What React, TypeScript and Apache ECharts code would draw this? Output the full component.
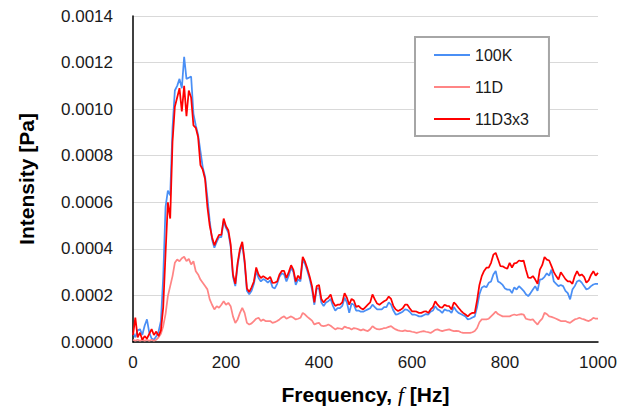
import React, { useEffect, useRef } from "react";
import * as echarts from "echarts";

// Frequency [Hz]
const FREQ = [
  0, 5, 10, 15, 20, 25, 30, 35, 40, 45,
  50, 55, 60, 65, 70, 75, 80, 85, 90, 95,
  100, 105, 110, 115, 120, 125, 130, 135, 140, 145,
  150, 155, 160, 165, 170, 175, 180, 185, 190, 195,
  200, 205, 210, 215, 220, 225, 230, 235, 240, 245,
  250, 255, 260, 265, 270, 275, 280, 285, 290, 295,
  300, 305, 310, 315, 320, 325, 330, 335, 340, 345,
  350, 355, 360, 365, 370, 375, 380, 385, 390, 395,
  400, 405, 410, 415, 420, 425, 430, 435, 440, 445,
  450, 455, 460, 465, 470, 475, 480, 485, 490, 495,
  500, 505, 510, 515, 520, 525, 530, 535, 540, 545,
  550, 555, 560, 565, 570, 575, 580, 585, 590, 595,
  600, 605, 610, 615, 620, 625, 630, 635, 640, 645,
  650, 655, 660, 665, 670, 675, 680, 685, 690, 695,
  700, 705, 710, 715, 720, 725, 730, 735, 740, 745,
  750, 755, 760, 765, 770, 775, 780, 785, 790, 795,
  800, 805, 810, 815, 820, 825, 830, 835, 840, 845,
  850, 855, 860, 865, 870, 875, 880, 885, 890, 895,
  900, 905, 910, 915, 920, 925, 930, 935, 940, 945,
  950, 955, 960, 965, 970, 975, 980, 985, 990, 995,
  1000,
];

// Intensity [Pa], series "100K"
const S_100K = [
  0.00004, 0.00002, 0.00005, 0.000055, 0.00003, 0.00007, 0.000097, 0.00004, 0.000015, 0.00001,
  0.000025, 0.000045, 0.00009, 0.00028, 0.00058, 0.00065, 0.00063, 0.00092, 0.00108, 0.0011,
  0.00113, 0.00109, 0.001225, 0.00113, 0.001135, 0.00114, 0.00098, 0.00093, 0.00089, 0.00082,
  0.00075, 0.00071, 0.00062, 0.00052, 0.00044, 0.000405, 0.00043, 0.00045, 0.00045, 0.00052,
  0.00049, 0.00047, 0.00041, 0.00028, 0.00024, 0.00033, 0.00039, 0.00042, 0.00034, 0.00022,
  0.000205, 0.00022, 0.00025, 0.000305, 0.000275, 0.00026, 0.00027, 0.000265, 0.000255, 0.000265,
  0.000235, 0.00023, 0.00025, 0.00028, 0.000295, 0.00029, 0.00026, 0.000285, 0.00032, 0.0003,
  0.000245, 0.00027, 0.00026, 0.000355, 0.000335, 0.000305, 0.00027, 0.000225, 0.00016, 0.00023,
  0.00023, 0.00017, 0.000155, 0.00017, 0.000175, 0.000185, 0.000155, 0.000135, 0.000145, 0.000145,
  0.000155, 0.00019, 0.00017, 0.000125, 0.000165, 0.00016, 0.000135, 0.000135, 0.00013, 0.00013,
  0.000135, 0.00014, 0.000145, 0.00016, 0.00015, 0.00014, 0.00014, 0.00014, 0.00015, 0.00015,
  0.00017, 0.00016, 0.000135, 0.000118, 0.00012, 0.000125, 0.00013, 0.00014, 0.000138, 0.00013,
  0.000118, 0.000118, 0.000115, 0.00011, 0.00011, 0.000115, 0.00012, 0.000118, 0.00013, 0.000135,
  0.000154, 0.00014, 0.000135, 0.000125, 0.00014, 0.000135, 0.000135, 0.000125, 0.00015, 0.000135,
  0.000125, 0.00012, 0.000115, 0.00011, 0.000097, 0.0001, 0.000105, 0.00011, 0.00015, 0.000205,
  0.000233, 0.00024, 0.000235, 0.000254, 0.00026, 0.00029, 0.000305, 0.00026, 0.000254, 0.000245,
  0.00023, 0.000225, 0.000225, 0.00021, 0.000235, 0.000225, 0.00024, 0.00023, 0.00022, 0.000205,
  0.000197, 0.00021, 0.000225, 0.00024, 0.00022, 0.000268, 0.00027, 0.00028, 0.000295, 0.000285,
  0.000311, 0.00026, 0.00025, 0.00024, 0.000245, 0.00024, 0.00022, 0.00021, 0.000183, 0.000225,
  0.00024, 0.00026, 0.000265, 0.000255, 0.00024, 0.000226, 0.00023, 0.00024, 0.000247, 0.00025,
  0.00025,
];

// Intensity [Pa], series "11D"
const S_11D = [
  0.00001, 0.000005, 0.00001, 0.000005, 0.00001, 0.000005, 0.00001, 0.000005, 0.00001, 0.000005,
  0.00001, 0.00002, 0.000035, 0.000068, 0.00012, 0.000197, 0.00024, 0.000283, 0.00034, 0.000354,
  0.000347, 0.00036, 0.000366, 0.000347, 0.000357, 0.000333, 0.000347, 0.000304, 0.00029, 0.000268,
  0.000254, 0.00024, 0.000226, 0.000183, 0.00016, 0.00014, 0.000154, 0.000147, 0.00016, 0.000175,
  0.00016, 0.000168, 0.000154, 0.00011, 0.000082, 0.000097, 0.000125, 0.000147, 0.000125, 0.000082,
  0.000075, 0.00008, 0.00009, 0.0001, 0.000104, 0.00009, 0.000097, 0.00009, 0.00009, 0.00009,
  0.000082, 0.000085, 0.00009, 0.000097, 0.000105, 0.00011, 0.0001, 0.000105, 0.00011, 0.000104,
  0.000097, 0.0001, 0.000104, 0.000125, 0.000118, 0.000108, 0.0001, 0.000092, 0.000075, 0.00008,
  0.000082, 0.00007, 0.000068, 0.00007, 0.000075, 0.00007, 0.000062, 0.000054, 0.00006, 0.000058,
  0.000055, 0.000066, 0.000062, 0.00006, 0.000054, 0.00006, 0.000058, 0.000054, 0.00005, 0.000054,
  0.00005, 0.000047, 0.000055, 0.000068, 0.00006, 0.000055, 0.000054, 0.000056, 0.00006, 0.000061,
  0.000065, 0.000068, 0.00006, 0.000054, 0.00005, 0.000048, 0.000047, 0.00005, 0.000047, 0.000047,
  0.000044, 0.000042, 0.000039, 0.000042, 0.000045, 0.000047, 0.000044, 0.000042, 0.000039, 0.000045,
  0.000052, 0.000054, 0.00005, 0.000047, 0.00005, 0.000052, 0.000054, 0.00005, 0.000047, 0.000048,
  0.000047, 0.000042, 0.000039, 0.000039, 0.000039, 0.000039, 0.000042, 0.000047, 0.00006, 0.000085,
  0.000097, 0.000097, 0.000097, 0.0001, 0.00011, 0.00012, 0.00013, 0.00012, 0.000115, 0.00011,
  0.00011, 0.00011, 0.00011, 0.000115, 0.000118, 0.000115, 0.000118, 0.00012, 0.000118, 0.0001,
  0.000097, 0.000095, 0.000097, 0.000085, 0.000075, 0.00009, 0.0001, 0.000125, 0.00012, 0.00011,
  0.000108, 0.000104, 0.0001, 0.000095, 0.00009, 0.00009, 0.00009, 0.000085, 0.000082, 0.00009,
  0.000097, 0.0001, 0.000104, 0.0001, 0.000097, 0.000093, 0.00009, 0.000095, 0.000104, 0.0001,
  0.0001,
];

// Intensity [Pa], series "11D3x3"
const S_11D3X3 = [
  0.00003, 0.000105, 0.00002, 0.00004, 0.00001, 0.000025, 0.000015, 0.000035, 0.000055, 0.00003,
  0.000045, 0.000025, 0.00005, 0.00015, 0.00038, 0.0006, 0.00053, 0.00086, 0.00101, 0.00105,
  0.00109, 0.00099, 0.0011, 0.00097, 0.00108, 0.00105, 0.00093, 0.00092, 0.00088, 0.00076,
  0.00074, 0.0007, 0.00058, 0.0005, 0.00045, 0.000415, 0.00044, 0.00046, 0.00046, 0.00053,
  0.000497, 0.00048, 0.00042, 0.00029, 0.00025, 0.00034, 0.0004, 0.00043, 0.00035, 0.00023,
  0.000215, 0.000235, 0.00026, 0.00032, 0.00029, 0.000275, 0.000283, 0.000276, 0.00027, 0.00028,
  0.000254, 0.000255, 0.00026, 0.00029, 0.000305, 0.000305, 0.000275, 0.0003, 0.00033, 0.00031,
  0.00026, 0.000285, 0.00027, 0.000366, 0.000345, 0.000315, 0.00028, 0.00024, 0.00017, 0.00024,
  0.000245, 0.000185, 0.00017, 0.000183, 0.00019, 0.000204, 0.000172, 0.000155, 0.00016, 0.00016,
  0.00017, 0.00021, 0.00019, 0.00016, 0.000185, 0.000178, 0.00015, 0.000155, 0.000145, 0.00014,
  0.00015, 0.00016, 0.00017, 0.000204, 0.000183, 0.000165, 0.00016, 0.000168, 0.000175, 0.00018,
  0.000195, 0.000185, 0.000155, 0.00014, 0.000133, 0.000138, 0.000145, 0.00016, 0.00016, 0.000145,
  0.000132, 0.000132, 0.00013, 0.000125, 0.000125, 0.00013, 0.000132, 0.000125, 0.00014, 0.00015,
  0.000175, 0.00016, 0.00015, 0.000147, 0.00016, 0.000155, 0.000154, 0.00014, 0.00017, 0.00016,
  0.000147, 0.000135, 0.000125, 0.000118, 0.00011, 0.00012, 0.000125, 0.000125, 0.00018, 0.000245,
  0.000283, 0.000305, 0.000319, 0.000319, 0.00034, 0.000375, 0.000383, 0.000355, 0.000326, 0.000325,
  0.000319, 0.000315, 0.00034, 0.00032, 0.000338, 0.00034, 0.00035, 0.000347, 0.00035, 0.00031,
  0.000276, 0.000275, 0.000283, 0.000268, 0.00025, 0.000311, 0.00033, 0.000365, 0.000354, 0.00035,
  0.000326, 0.0003, 0.000283, 0.000268, 0.0003, 0.000285, 0.00027, 0.00026, 0.00026, 0.00025,
  0.000283, 0.000304, 0.000285, 0.00029, 0.00028, 0.000255, 0.000265, 0.000288, 0.000304, 0.000285,
  0.000297,
];

const SERIES_NAMES = ["100K", "11D", "11D3x3"];
const SERIES_COLORS = ["#4a8ff5", "#ff8585", "#ff0000"];

export default function App() {
  const ref = useRef<HTMLDivElement>(null);

  useEffect(() => {
    if (!ref.current) return;
    const chart = echarts.init(ref.current, null, { renderer: "svg" });
    const font = "'Liberation Sans', Arial, sans-serif";
    const values = [S_100K, S_11D, S_11D3X3];

    chart.setOption({
      animation: false,
      backgroundColor: "#ffffff",
      grid: {
        left: 133,
        right: 32,
        top: 16,
        bottom: 64,
        containLabel: false,
        outerBoundsMode: "none",
      },
      xAxis: {
        type: "value",
        min: 0,
        max: 1000,
        interval: 200,
        name: "{a|Frequency, }{f|f}{a| [Hz]}",
        nameLocation: "middle",
        nameGap: 41,
        nameTextStyle: {
          rich: {
            a: { fontFamily: font, fontWeight: "bold", fontSize: 21, lineHeight: 22, color: "#000" },
            f: {
              fontFamily: "'Liberation Serif', 'DejaVu Serif', serif",
              fontStyle: "italic",
              fontSize: 22,
              lineHeight: 22,
              color: "#000",
            },
          },
        },
        axisLine: { show: true, onZero: false, lineStyle: { color: "#000", width: 1.5 } },
        axisTick: { show: false },
        axisLabel: {
          fontFamily: font,
          fontSize: 17,
          color: "#1a1a1a",
          margin: 12,
          formatter: (v: number) => String(v),
        },
        splitLine: { show: false },
      },
      yAxis: {
        type: "value",
        min: 0,
        max: 0.0014,
        interval: 0.0002,
        name: "Intensity [Pa]",
        nameLocation: "middle",
        nameGap: 96,
        nameTextStyle: { fontFamily: font, fontWeight: "bold", fontSize: 21, color: "#000" },
        axisLine: { show: true, lineStyle: { color: "#000", width: 1.5 } },
        axisTick: { show: false },
        axisLabel: {
          fontFamily: font,
          fontSize: 17,
          color: "#1a1a1a",
          margin: 20,
          formatter: (v: number) => v.toFixed(4),
        },
        splitLine: { show: true, lineStyle: { color: "#d9d9d9", width: 1 } },
      },
      legend: {
        orient: "vertical",
        left: 415,
        top: 37,
        padding: [10, 20, 9, 19],
        icon: "rect",
        itemWidth: 36,
        itemHeight: 2,
        itemGap: 16,
        backgroundColor: "#ffffff",
        borderColor: "#a6a6a6",
        borderWidth: 2,
        borderRadius: 0,
        textStyle: { fontFamily: font, fontSize: 16, color: "#1a1a1a" },
        data: SERIES_NAMES,
      },
      series: SERIES_NAMES.map((name, k) => ({
        name,
        type: "line",
        symbol: "none",
        showSymbol: false,
        smooth: false,
        lineStyle: { color: SERIES_COLORS[k], width: 1.75 },
        itemStyle: { color: SERIES_COLORS[k] },
        data: FREQ.map((f, i) => [f, values[k][i]]),
      })),
    });

    return () => chart.dispose();
  }, []);

  return (
    <div
      ref={ref}
      style={{ position: "fixed", left: 0, top: 0, width: 630, height: 406, background: "#fff" }}
    />
  );
}
